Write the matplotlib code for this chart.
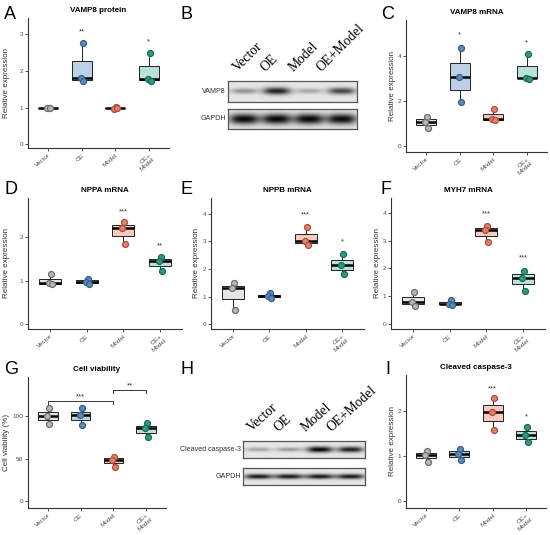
import numpy as np
import matplotlib
matplotlib.use("Agg")
from matplotlib import pyplot as plt

plt.rcParams['font.family'] = ['Liberation Sans', 'DejaVu Sans']

W, H = 550, 535  # figure size in pixels

GROUPS = ['Vector', 'OE', 'Model', 'OE+\nModel']
FILL = ['#e4e4e6', '#bcd0e6', '#f9c8be', '#b8e2d8']
DOT = ['#b8b8bc', '#5a8cbd', '#e58069', '#2b9c84']
DOT_EDGE = ['#6e6e72', '#345f8a', '#a9503c', '#1a6b5a']
JITTER = [0.03, -0.03, 0.05]

# ---- box plot data (3 replicates per group) ----
vamp8_protein = [[1.00, 1.00, 1.00], [2.77, 1.80, 1.72], [1.02, 0.97, 0.99], [2.50, 1.78, 1.72]]
vamp8_protein_stars = ['', '**', '', '*']
vamp8_protein_star_y = [0, 3.06, 0, 2.79]

vamp8_mrna = [[1.30, 1.06, 0.80], [4.36, 3.05, 1.94], [1.66, 1.20, 1.15], [4.08, 3.03, 2.98]]
vamp8_mrna_stars = ['', '*', '', '*']
vamp8_mrna_star_y = [0, 4.93, 0, 4.60]

nppa_mrna = [[1.15, 0.95, 0.92], [1.05, 0.97, 0.92], [2.36, 2.20, 1.85], [1.54, 1.45, 1.22]]
nppa_mrna_stars = ['', '', '***', '**']
nppa_mrna_star_y = [0, 0, 2.58, 1.79]

nppb_mrna = [[1.50, 1.30, 0.51], [1.12, 1.02, 0.95], [3.54, 3.02, 2.88], [2.53, 2.15, 1.81]]
nppb_mrna_stars = ['', '', '***', '*']
nppb_mrna_star_y = [0, 0, 3.96, 3.00]

myh7_mrna = [[1.16, 0.80, 0.65], [0.87, 0.73, 0.70], [3.52, 3.38, 2.97], [1.92, 1.66, 1.19]]
myh7_mrna_stars = ['', '', '***', '***']
myh7_mrna_star_y = [0, 0, 3.95, 2.37]

viability = [[109.8, 100.0, 90.6], [109.0, 101.0, 89.0], [52.0, 49.0, 40.5], [91.4, 85.5, 75.0]]
viability_brackets = [(1, 3, 117.6, '***'), (3, 4, 130.6, '**')]

cleaved_casp3 = [[1.10, 1.03, 0.86], [1.15, 1.05, 0.90], [2.28, 1.98, 1.58], [1.64, 1.47, 1.30]]
cleaved_casp3_stars = ['', '', '***', '*']
cleaved_casp3_star_y = [0, 0, 2.50, 1.87]

# ---- western blot band intensities (0..1) ----
blot_b_lanes = ['Vector', 'OE', 'Model', 'OE+Model']
blot_b_vamp8 = [0.38, 0.88, 0.28, 0.72]
blot_b_gapdh = [1.00, 1.00, 1.00, 0.98]
blot_h_lanes = ['Vector', 'OE', 'Model', 'OE+Model']
blot_h_casp3 = [0.30, 0.34, 1.00, 0.90]
blot_h_gapdh = [0.92, 0.92, 0.92, 0.92]

fig = plt.figure(figsize=(W / 100, H / 100), dpi=100)


def px_box(l, t, r, b):
    return [l / W, 1 - b / H, (r - l) / W, (b - t) / H]


def box_panel(box, values, title, yticks, ylim, label_x, ylabel='Relative expression',
              stars=None, star_y=None):
    ax = fig.add_axes(px_box(*box))
    bp = ax.boxplot(values, positions=range(1, 5), widths=0.6, patch_artist=True,
                    showcaps=False, showfliers=False,
                    medianprops=dict(color='black', linewidth=1.8, solid_capstyle='butt'),
                    boxprops=dict(edgecolor='#222222', linewidth=0.7),
                    whiskerprops=dict(color='#222222', linewidth=0.7))
    for patch, c in zip(bp['boxes'], FILL):
        patch.set_facecolor(c)
    for i, v in enumerate(values):
        ax.plot(np.full(len(v), i + 1.0) + np.array(JITTER[:len(v)]), v, 'o', ms=4.3,
                mfc=DOT[i], mec=DOT_EDGE[i], mew=0.9, zorder=3)
    if stars:
        for i, (s, y) in enumerate(zip(stars, star_y)):
            if s:
                ax.text(i + 1, y, s, ha='center', va='center', fontsize=5.5, color='#333333')
    ax.set_xlim(0.4, 4.6)
    ax.set_ylim(*ylim)
    ax.set_yticks(yticks)
    ax.set_xticks(range(1, 5))
    ax.set_xticklabels(GROUPS, rotation=40, ha='right', va='top', rotation_mode='anchor')
    ax.tick_params(length=2, width=0.6, colors='#333333', labelsize=4.6, pad=1.5,
                   labelcolor='#4d4d4d')
    for s in ['top', 'right']:
        ax.spines[s].set_visible(False)
    for s in ['left', 'bottom']:
        ax.spines[s].set_linewidth(0.8)
        ax.spines[s].set_color('#333333')
    ax.set_title(title, fontsize=5.8, fontweight='bold', pad=4)
    ax.set_ylabel(ylabel, fontsize=5.8, color='#333333')
    ax.yaxis.set_label_coords(label_x, 0.5)
    return ax


def blot_strip(box, bands, width, height, label):
    ax = fig.add_axes(px_box(*box))
    xs = np.linspace(0, 4, 400)
    ys = np.linspace(0, 1, 60)
    X, Y = np.meshgrid(xs, ys)
    img = np.full(X.shape, 0.9)
    for i, b in enumerate(bands):
        hh = height * (0.6 + 0.5 * b)
        prof = np.exp(-np.abs((X - i - 0.5) / width) ** 3) * np.exp(-((Y - 0.5) / hh) ** 2)
        img -= 0.88 * b * prof
    ax.imshow(np.clip(img, 0, 1), cmap='gray', vmin=0, vmax=1, extent=(0, 4, 0, 1),
              aspect='auto', interpolation='bilinear')
    ax.set_xticks([])
    ax.set_yticks([])
    for s in ax.spines.values():
        s.set_color('#555555')
        s.set_linewidth(0.9)
    l, t, r, b = box
    fig.text((l - 2) / W, 1 - (t + b) / 2 / H, label, ha='right', va='center',
             fontsize=5.1, color='#333333')
    return ax


def lane_labels(box, names, rotation):
    l, t, r, b = box
    lane_w = (r - l) / 4
    for i, n in enumerate(names):
        x = l + lane_w * (0.3 + 0.87 * i)
        fig.text(x / W, 1 - (t - 9) / H, n, rotation=rotation, ha='left', va='baseline',
                 rotation_mode='anchor', fontsize=9.8,
                 family=['Liberation Serif', 'DejaVu Serif'])


# A
box_panel((28, 18, 169, 148), vamp8_protein, 'VAMP8 protein', [0, 1, 2, 3], (-0.1, 3.45),
          -0.128, stars=vamp8_protein_stars, star_y=vamp8_protein_star_y)
# B
bb1 = (228, 81, 357, 102)
bb2 = (228, 109, 357, 129)
blot_strip(bb1, blot_b_vamp8, 0.42, 0.16, 'VAMP8')
blot_strip(bb2, blot_b_gapdh, 0.46, 0.24, 'GAPDH')
lane_labels(bb1, blot_b_lanes, 45)
# C
box_panel((406, 20, 547, 152), vamp8_mrna, 'VAMP8 mRNA', [0, 2, 4], (-0.27, 5.6),
          -0.074, stars=vamp8_mrna_stars, star_y=vamp8_mrna_star_y)
# D, E, F
box_panel((28, 198, 182, 329), nppa_mrna, 'NPPA mRNA', [0, 1, 2], (-0.11, 2.9),
          -0.114, stars=nppa_mrna_stars, star_y=nppa_mrna_star_y)
box_panel((211, 198, 364, 329), nppb_mrna, 'NPPB mRNA', [0, 1, 2, 3, 4], (-0.18, 4.58),
          -0.069, stars=nppb_mrna_stars, star_y=nppb_mrna_star_y)
box_panel((391, 198, 545, 329), myh7_mrna, 'MYH7 mRNA', [0, 1, 2, 3, 4], (-0.18, 4.54),
          -0.068, stars=myh7_mrna_stars, star_y=myh7_mrna_star_y)
# G
axg = box_panel((28, 377, 166, 508), viability, 'Cell viability', [0, 50, 100], (-8, 146),
                -0.134, ylabel='Cell viability (%)')
for x1, x2, y, s in viability_brackets:
    axg.plot([x1, x1, x2, x2], [y - 3.5, y, y, y - 3.5], color='#333333', lw=0.7)
    axg.text((x1 + x2) / 2, y + 5, s, ha='center', va='center', fontsize=5.5, color='#333333')
# H
hb1 = (243, 441, 365, 458)
hb2 = (243, 468, 365, 485)
blot_strip(hb1, blot_h_casp3, 0.42, 0.16, 'Cleaved caspase-3')
blot_strip(hb2, blot_h_gapdh, 0.46, 0.14, 'GAPDH')
lane_labels(hb1, blot_h_lanes, 42)
# I
box_panel((406, 375, 546, 508), cleaved_casp3, 'Cleaved caspase-3', [0, 1, 2], (-0.16, 2.8),
          -0.075, stars=cleaved_casp3_stars, star_y=cleaved_casp3_star_y)

# panel letters
letters = ['A', 'B', 'C', 'D', 'E', 'F', 'G', 'H', 'I']
letter_x = [4, 180, 381, 4, 180, 381, 4, 180, 385]
letter_y = [6, 6, 6, 181, 181, 181, 361, 361, 361]
for s, x, y in zip(letters, letter_x, letter_y):
    fig.text(x / W, 1 - y / H, s, fontsize=13, ha='left', va='top')

fig.savefig('out.png', dpi=100)
